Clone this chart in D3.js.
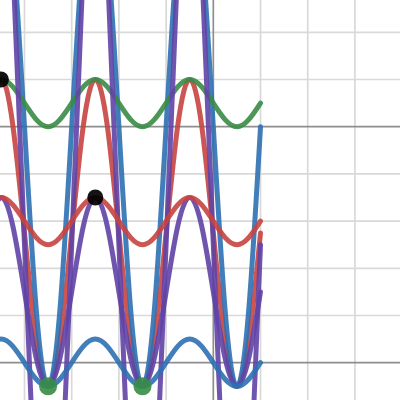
<!DOCTYPE html>
<html>
<head>
<meta charset="utf-8">
<script src="https://cdn.jsdelivr.net/npm/d3@7"></script>
<style>
  html, body { margin: 0; padding: 0; background: #fff; }
  svg { display: block; }
</style>
</head>
<body>
<svg id="chart" width="400" height="400"></svg>
<script>
// Sample positions (x) shared by all curves
const xs = [-4.75, -4.5, -4.25, -4, -3.75, -3.5, -3.25, -3, -2.75, -2.5, -2.25, -2,
            -1.75, -1.5, -1.25, -1, -0.75, -0.5, -0.25, 0, 0.25, 0.5, 0.75, 1];

// Curve values at those x positions
const redSteep = [5.05, 6, 5.05, 2.75, 0.45, -0.5, 0.45, 2.75,
                  5.05, 6, 5.05, 2.75, 0.45, -0.5, 0.45, 2.75,
                  5.05, 6, 5.05, 2.75, 0.45, -0.5, 0.45, 2.75];
const blueSteep = [8.89, 10.5, 8.89, 5, 1.11, -0.5, 1.11, 5,
                   8.89, 10.5, 8.89, 5, 1.11, -0.5, 1.11, 5,
                   8.89, 10.5, 8.89, 5, 1.11, -0.5, 1.11, 5];
const greenWave = [5.85, 6, 5.85, 5.5, 5.15, 5, 5.15, 5.5,
                   5.85, 6, 5.85, 5.5, 5.15, 5, 5.15, 5.5,
                   5.85, 6, 5.85, 5.5, 5.15, 5, 5.15, 5.5];
const purpleSteep = [8.51, 11, 8.51, 2.5, -3.51, -6, -3.51, 2.5,
                     8.51, 11, 8.51, 2.5, -3.51, -6, -3.51, 2.5,
                     8.51, 11, 8.51, 2.5, -3.51, -6, -3.51, 2.5];
const purpleMid = [2.91, 3.5, 2.91, 1.5, 0.09, -0.5, 0.09, 1.5,
                   2.91, 3.5, 2.91, 1.5, 0.09, -0.5, 0.09, 1.5,
                   2.91, 3.5, 2.91, 1.5, 0.09, -0.5, 0.09, 1.5];
const redMid = [3.35, 3.5, 3.35, 3, 2.65, 2.5, 2.65, 3,
                3.35, 3.5, 3.35, 3, 2.65, 2.5, 2.65, 3,
                3.35, 3.5, 3.35, 3, 2.65, 2.5, 2.65, 3];
const blueSmall = [0.35, 0.5, 0.35, 0, -0.35, -0.5, -0.35, 0,
                   0.35, 0.5, 0.35, 0, -0.35, -0.5, -0.35, 0,
                   0.35, 0.5, 0.35, 0, -0.35, -0.5, -0.35, 0];

// Marked points
const blackPtsX = [-4.5, -2.5];
const blackPtsY = [6, 3.5];
const greenPtsX = [-3.5, -1.5];
const greenPtsY = [-0.5, -0.5];

// Grid values
const gridX = [-4, -3, -2, -1, 0, 1, 2, 3];
const gridY = [0, 1, 2, 3, 4, 5, 6, 7];
const majorX = [0];
const majorY = [0, 5];

const W = 400, H = 400;
const x = d3.scaleLinear().domain([-4.519, 3.955]).range([0, W]);
const y = d3.scaleLinear().domain([-0.79, 7.684]).range([H, 0]);

const svg = d3.select("#chart");

const grid = svg.append("g");
grid.selectAll("line.vx").data(gridX.filter(v => !majorX.includes(v))).join("line")
  .attr("x1", d => x(d)).attr("x2", d => x(d)).attr("y1", 0).attr("y2", H)
  .attr("stroke", "#d9d9d9").attr("stroke-width", 1.7);
grid.selectAll("line.hy").data(gridY.filter(v => !majorY.includes(v))).join("line")
  .attr("y1", d => y(d)).attr("y2", d => y(d)).attr("x1", 0).attr("x2", W)
  .attr("stroke", "#d9d9d9").attr("stroke-width", 1.7);
const majors = svg.append("g");
majors.selectAll("line.mx").data(majorX).join("line")
  .attr("x1", d => x(d)).attr("x2", d => x(d)).attr("y1", 0).attr("y2", H)
  .attr("stroke", "#8e8e8e").attr("stroke-width", 1.7);
majors.selectAll("line.my").data(majorY).join("line")
  .attr("y1", d => y(d)).attr("y2", d => y(d)).attr("x1", 0).attr("x2", W)
  .attr("stroke", "#8e8e8e").attr("stroke-width", 1.7);

const line = d3.line().x(d => x(d[0])).y(d => y(d[1])).curve(d3.curveNatural);

const series = [
  { v: redSteep, c: "#c74440" },
  { v: blueSteep, c: "#2d70b3" },
  { v: greenWave, c: "#388c46" },
  { v: purpleSteep, c: "#6042a6" },
  { v: purpleMid, c: "#6042a6" },
  { v: redMid, c: "#c74440" },
  { v: blueSmall, c: "#2d70b3" }
];

svg.append("g").selectAll("path").data(series).join("path")
  .attr("d", s => line(xs.map((xv, i) => [xv, s.v[i]])))
  .attr("fill", "none")
  .attr("stroke", s => s.c)
  .attr("stroke-opacity", 0.9)
  .attr("stroke-width", 5)
  .attr("stroke-linecap", "round")
  .attr("stroke-linejoin", "round");

svg.append("g").selectAll("circle").data(blackPtsX).join("circle")
  .attr("cx", d => x(d)).attr("cy", (d, i) => y(blackPtsY[i]))
  .attr("r", 8).attr("fill", "#000").attr("fill-opacity", 0.92);
svg.append("g").selectAll("circle").data(greenPtsX).join("circle")
  .attr("cx", d => x(d)).attr("cy", (d, i) => y(greenPtsY[i]))
  .attr("r", 9).attr("fill", "#388c46").attr("fill-opacity", 0.9);
</script>
</body>
</html>
